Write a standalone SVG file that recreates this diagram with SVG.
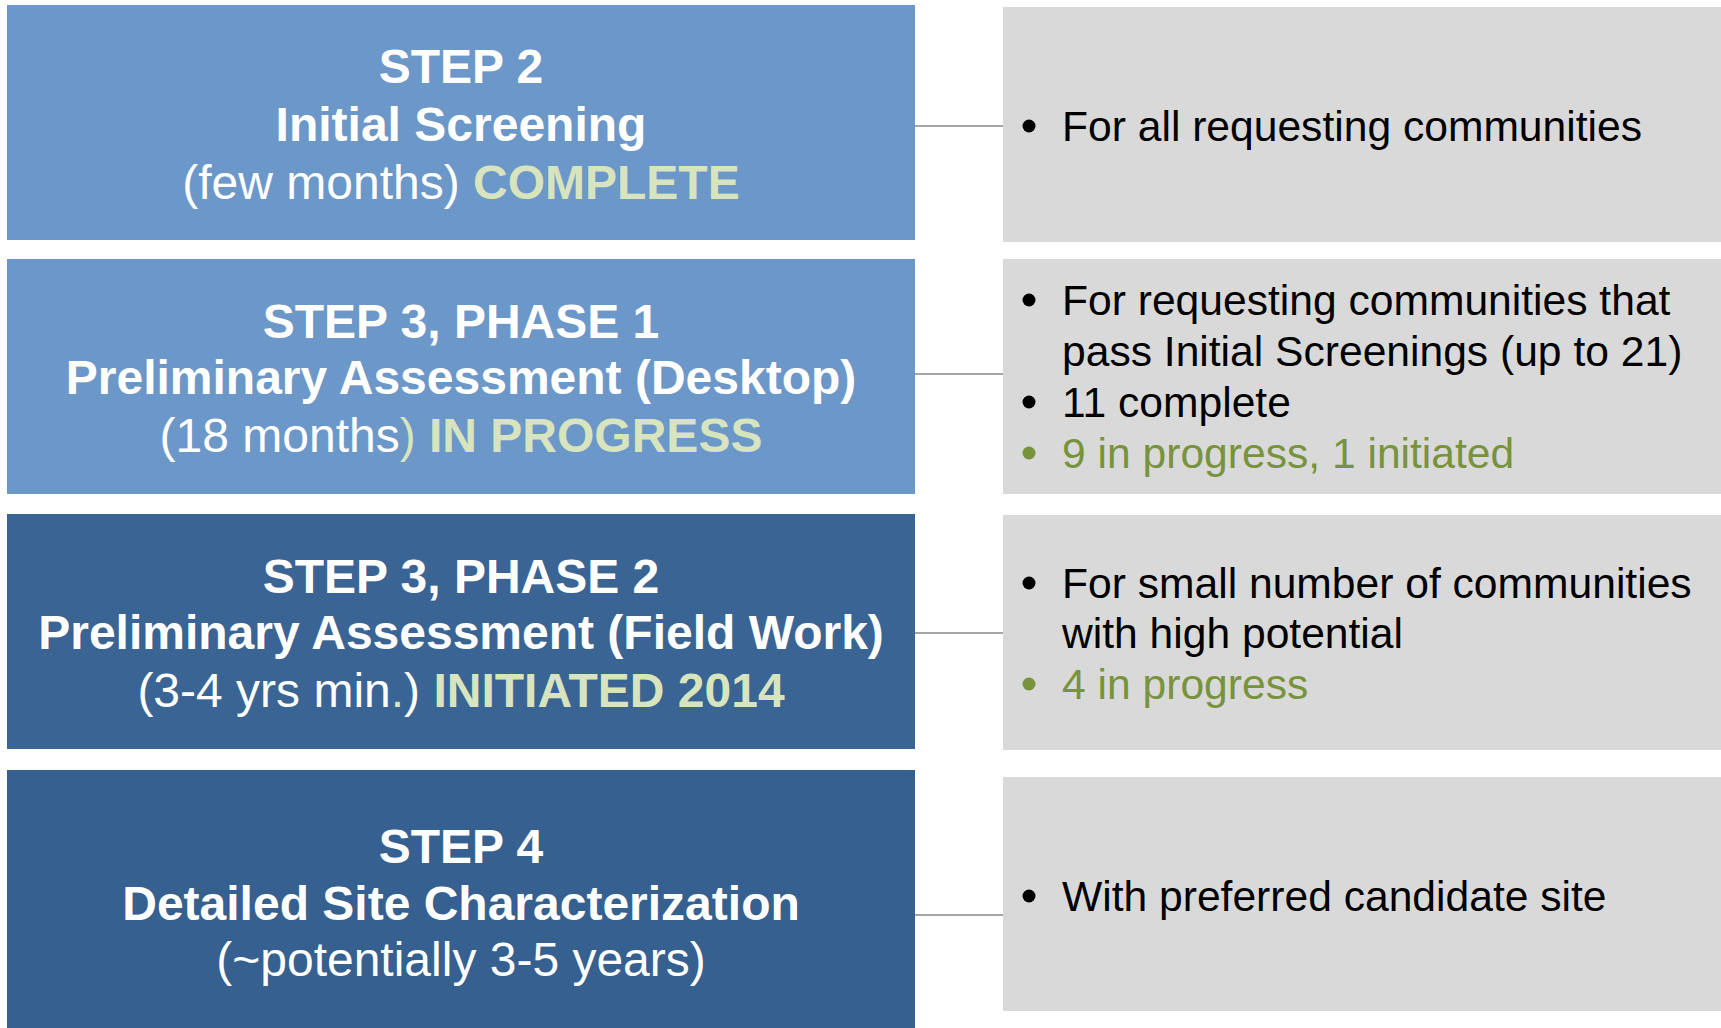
<svg xmlns="http://www.w3.org/2000/svg" width="1721" height="1028" viewBox="0 0 1721 1028">
<style>
.lb{fill:#6C97C9}
.db3{fill:#3A6494}
.db4{fill:#36608F}
.gb{fill:#D9D9D9}
.t{font-family:"Liberation Sans",Arial,sans-serif;text-anchor:middle;fill:#FFFFFF}
.b{font-weight:bold;font-size:48px}
.r{font-size:48px}
.acc{fill:#D7E4BD;font-weight:bold}
.accn{fill:#D7E4BD}
.rt{font-family:"Liberation Sans",Arial,sans-serif;font-size:42.6px;fill:#000000}
.g{fill:#77933C}
.conn{stroke:#A6A6A6;stroke-width:2;fill:none}
</style>
<rect width="1721" height="1028" fill="#FFFFFF"/>
<g id="connectors">
<line class="conn" x1="915" y1="126" x2="1003" y2="126"/>
<line class="conn" x1="915" y1="374" x2="1003" y2="374"/>
<line class="conn" x1="915" y1="633" x2="1003" y2="633"/>
<line class="conn" x1="915" y1="915" x2="1003" y2="915"/>
</g>
<g id="step2">
<rect class="lb" x="7" y="5" width="908" height="235"/>
<text class="t b" x="461" y="83">STEP 2</text>
<text class="t b" x="461" y="141">Initial Screening</text>
<text class="t r" x="461" y="199">(few months) <tspan class="acc">COMPLETE</tspan></text>
</g>
<g id="step3p1">
<rect class="lb" x="7" y="259" width="908" height="235"/>
<text class="t b" x="461" y="338">STEP 3, PHASE 1</text>
<text class="t b" x="461" y="394">Preliminary Assessment (Desktop)</text>
<text class="t r" x="461" y="452">(18 months<tspan class="accn">)</tspan> <tspan class="acc">IN PROGRESS</tspan></text>
</g>
<g id="step3p2">
<rect class="db3" x="7" y="514" width="908" height="235"/>
<text class="t b" x="461" y="593">STEP 3, PHASE 2</text>
<text class="t b" x="461" y="649">Preliminary Assessment (Field Work)</text>
<text class="t r" x="461" y="707">(3-4 yrs min<tspan class="accn">.</tspan>) <tspan class="acc">INITIATED 2014</tspan></text>
</g>
<g id="step4">
<rect class="db4" x="7" y="770" width="908" height="258"/>
<text class="t b" x="461" y="863">STEP 4</text>
<text class="t b" x="461" y="920">Detailed Site Characterization</text>
<text class="t r" x="461" y="976">(~potentially 3-5 years)</text>
</g>
<g id="desc2">
<rect class="gb" x="1003" y="7" width="718" height="235"/>
<circle cx="1029" cy="126" r="6.5" fill="#000"/>
<text class="rt" x="1062" y="141">For all requesting communities</text>
</g>
<g id="desc3p1">
<rect class="gb" x="1003" y="259" width="718" height="235"/>
<circle cx="1029" cy="300" r="6.5" fill="#000"/>
<text class="rt" x="1062" y="315">For requesting communities that</text>
<text class="rt" x="1062" y="366">pass Initial Screenings (up to 21)</text>
<circle cx="1029" cy="402" r="6.5" fill="#000"/>
<text class="rt" x="1062" y="417">11 complete</text>
<circle cx="1029" cy="453" r="6.5" fill="#77933C"/>
<text class="rt g" x="1062" y="468">9 in progress, 1 initiated</text>
</g>
<g id="desc3p2">
<rect class="gb" x="1003" y="515" width="718" height="235"/>
<circle cx="1029" cy="583" r="6.5" fill="#000"/>
<text class="rt" x="1062" y="598">For small number of communities</text>
<text class="rt" x="1062" y="648">with high potential</text>
<circle cx="1029" cy="684" r="6.5" fill="#77933C"/>
<text class="rt g" x="1062" y="699">4 in progress</text>
</g>
<g id="desc4">
<rect class="gb" x="1003" y="777" width="718" height="234"/>
<circle cx="1029" cy="896" r="6.5" fill="#000"/>
<text class="rt" x="1062" y="911">With preferred candidate site</text>
</g>
</svg>
